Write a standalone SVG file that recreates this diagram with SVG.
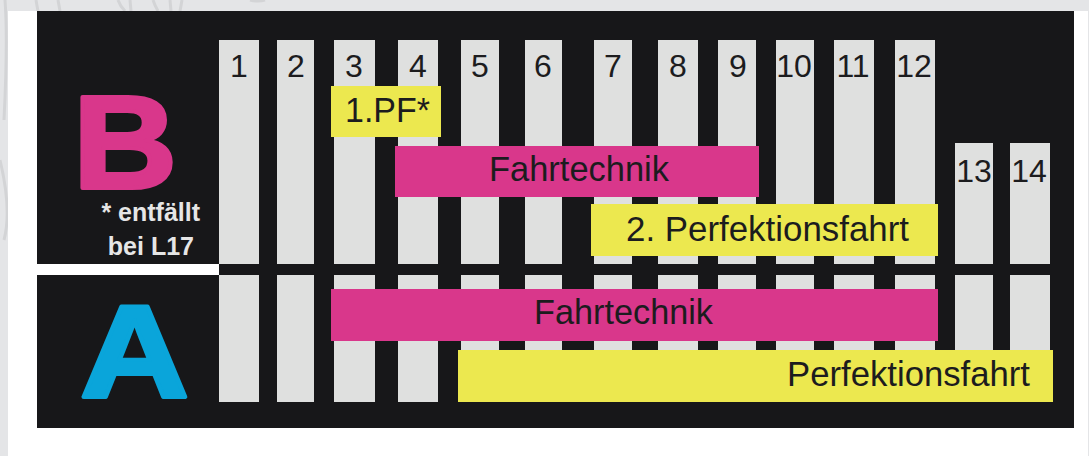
<svg xmlns="http://www.w3.org/2000/svg" width="1089" height="456" viewBox="0 0 1089 456">
  <style>
    .col { fill: #dfe0df; }
    .num { font-family: "Liberation Sans", Arial, sans-serif; font-size: 32px; fill: #1c1c1e; text-anchor: middle; }
    .bar { font-family: "Liberation Sans", Arial, sans-serif; font-size: 35px; fill: #1c1c1e; }
    .mag { fill: #d9378b; }
    .yel { fill: #ece84f; }
    .note { font-family: "Liberation Sans", Arial, sans-serif; font-size: 25px; font-weight: bold; fill: #e6e6e6; text-anchor: end; }
    .big { font-family: "Liberation Sans", Arial, sans-serif; font-size: 131px; font-weight: bold; stroke-width: 4; stroke-linejoin: round; }
    .deco { fill: none; stroke: #d3d4d6; stroke-width: 3; }
  </style>
  <!-- background -->
  <rect x="0" y="0" width="1089" height="456" fill="#e4e5e7"/>
  <g id="decoration">
    <path class="deco" d="M 5 0 Q 8 40 4 120"/>
    <path class="deco" d="M 0 160 Q 12 210 4 240"/>
    <path class="deco" d="M 36 0 Q 37 6 38 11"/>
    <path class="deco" d="M 58 0 L 60 11"/>
    <path class="deco" d="M 118 0 Q 120 6 125 11"/>
    <path class="deco" d="M 130 0 L 131 11"/>
    <path class="deco" d="M 153 0 Q 155 6 158 11"/>
    <path class="deco" d="M 170 0 L 171 11"/>
    <path class="deco" d="M 182 0 Q 181 6 180 11"/>
    <path class="deco" d="M 250 0 Q 258 2 265 0"/>
  </g>
  <rect x="8" y="11" width="1080" height="445" fill="#ffffff"/>
  <!-- black panel -->
  <rect x="37" y="11" width="1037" height="417" fill="#171719"/>
  <rect x="37" y="264" width="182" height="11" fill="#ffffff"/>

  <g id="columns">
    <rect class="col" x="219" y="40" width="40" height="224"/>
    <rect class="col" x="277" y="40" width="37" height="224"/>
    <rect class="col" x="334" y="40" width="41" height="224"/>
    <rect class="col" x="398" y="40" width="40" height="224"/>
    <rect class="col" x="461" y="40" width="38" height="224"/>
    <rect class="col" x="525" y="40" width="37" height="224"/>
    <rect class="col" x="594" y="40" width="38" height="224"/>
    <rect class="col" x="658" y="40" width="40" height="224"/>
    <rect class="col" x="718" y="40" width="38" height="224"/>
    <rect class="col" x="776" y="40" width="38" height="224"/>
    <rect class="col" x="834" y="40" width="40" height="224"/>
    <rect class="col" x="895" y="40" width="40" height="224"/>
    <rect class="col" x="955" y="143" width="38" height="121"/>
    <rect class="col" x="1010" y="143" width="40" height="121"/>

    <rect class="col" x="219" y="275" width="40" height="127"/>
    <rect class="col" x="277" y="275" width="37" height="127"/>
    <rect class="col" x="334" y="275" width="41" height="127"/>
    <rect class="col" x="398" y="275" width="40" height="127"/>
    <rect class="col" x="461" y="275" width="38" height="127"/>
    <rect class="col" x="525" y="275" width="37" height="127"/>
    <rect class="col" x="594" y="275" width="38" height="127"/>
    <rect class="col" x="658" y="275" width="40" height="127"/>
    <rect class="col" x="718" y="275" width="38" height="127"/>
    <rect class="col" x="776" y="275" width="38" height="127"/>
    <rect class="col" x="834" y="275" width="40" height="127"/>
    <rect class="col" x="895" y="275" width="40" height="127"/>
    <rect class="col" x="955" y="275" width="38" height="127"/>
    <rect class="col" x="1010" y="275" width="40" height="127"/>
  </g>

  <g id="numbers">
    <text class="num" x="239" y="77">1</text>
    <text class="num" x="296" y="77">2</text>
    <text class="num" x="354" y="77">3</text>
    <text class="num" x="418" y="77">4</text>
    <text class="num" x="480" y="77">5</text>
    <text class="num" x="543" y="77">6</text>
    <text class="num" x="613" y="77">7</text>
    <text class="num" x="678" y="77">8</text>
    <text class="num" x="738" y="77">9</text>
    <text class="num" x="794" y="77">10</text>
    <text class="num" x="853" y="77">11</text>
    <text class="num" x="914" y="77">12</text>
    <text class="num" x="974" y="182">13</text>
    <text class="num" x="1029" y="182">14</text>
  </g>

  <g id="label-B">
    <text class="big" x="73" y="188" fill="#d9378b" stroke="#d9378b" textLength="104" lengthAdjust="spacingAndGlyphs">B</text>
  </g>
  <g id="label-A">
    <text class="big" x="80" y="397" fill="#0aa5da" stroke="#0aa5da" textLength="109" lengthAdjust="spacingAndGlyphs">A</text>
  </g>
  <g id="note">
    <text class="note" x="200" y="221">* entfällt</text>
    <text class="note" x="194" y="255">bei L17</text>
  </g>

  <g id="B-pf1">
    <rect class="yel" x="331" y="86" width="110" height="51"/>
    <text class="bar" x="345" y="122" textLength="85" lengthAdjust="spacingAndGlyphs">1.PF*</text>
  </g>
  <g id="B-fahrtechnik">
    <rect class="mag" x="395" y="146" width="364" height="51"/>
    <text class="bar" x="489" y="181" textLength="180" lengthAdjust="spacingAndGlyphs">Fahrtechnik</text>
  </g>
  <g id="B-pf2">
    <rect class="yel" x="591" y="204" width="347" height="52"/>
    <text class="bar" x="626" y="241" textLength="283" lengthAdjust="spacingAndGlyphs">2. Perfektionsfahrt</text>
  </g>
  <g id="A-fahrtechnik">
    <rect class="mag" x="331" y="289" width="607" height="52"/>
    <text class="bar" x="534" y="324" textLength="179" lengthAdjust="spacingAndGlyphs">Fahrtechnik</text>
  </g>
  <g id="A-perfektionsfahrt">
    <rect class="yel" x="458" y="350" width="595" height="52"/>
    <text class="bar" x="787" y="386" textLength="243" lengthAdjust="spacingAndGlyphs">Perfektionsfahrt</text>
  </g>
  <g id="connectors"/>
</svg>
